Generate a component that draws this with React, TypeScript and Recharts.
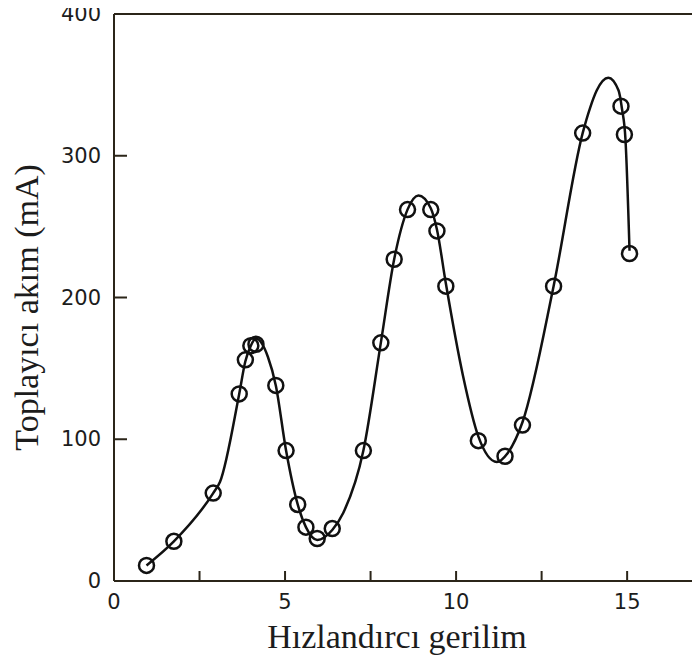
import { ComposedChart, Line, Scatter, XAxis, YAxis, ReferenceLine, Label } from 'recharts';

// measured points (volts, mA)
const pointV = [0.95, 1.75, 2.9, 3.66, 3.84, 4.0, 4.15, 4.73, 5.03, 5.37, 5.61, 5.94, 6.38,
  7.29, 7.8, 8.19, 8.58, 9.26, 9.44, 9.7, 10.65, 11.43, 11.94, 12.85, 13.7, 14.82, 14.92, 15.07];
const pointI = [11, 28, 62, 132, 156, 166, 167, 138, 92, 54, 38, 30, 37,
  92, 168, 227, 262, 262, 247, 208, 99, 88, 110, 208, 316, 335, 315, 231];

// hand-drawn fit curve
const curveV = [0.95, 1.75, 2.9, 3.1, 3.66, 3.84, 4.0, 4.15, 4.5, 4.73, 5.03, 5.37, 5.61, 5.94, 6.38, 6.7,
  7.29, 7.8, 8.19, 8.58, 8.9, 9.26, 9.44, 9.7, 10.2, 10.65, 11.19, 11.5, 11.94, 12.85, 13.7, 13.92,
  14.11, 14.45, 14.75, 14.85, 14.95, 15.07];
const curveI = [11, 28, 62, 70, 132, 155, 166, 171, 158, 138, 92, 54, 38, 29, 36, 48,
  92, 168, 227, 262, 272, 263, 248, 210, 145, 102, 84, 90, 112, 208, 316, 334,
  346, 355, 346, 333, 312, 233];

const xTicks = [0, 2.5, 5, 7.5, 10, 12.5, 15];
const yTicks = [0, 100, 200, 300, 400];

const points = pointV.map((v, k) => ({ v, i: pointI[k] }));
const curve = curveV.map((v, k) => ({ v, i: curveI[k] }));

const axisColor = '#2b2519';
const textColor = '#1c1c1c';
const tickFont = '"DejaVu Sans", Verdana, sans-serif';
const labelFont = '"Liberation Serif", "Times New Roman", serif';

const XTick = (props: any) => {
  const { x, y, payload } = props;
  const v = payload.value;
  return (
    <g>
      {v > 0 && <line x1={x} y1={y} x2={x} y2={y - 10} stroke={axisColor} strokeWidth={2} />}
      {v % 5 === 0 && (
        <text x={x} y={y + 21} textAnchor="middle" dominantBaseline="central"
          fontFamily={tickFont} fontSize={21} fill={textColor}>{v}</text>
      )}
    </g>
  );
};

const YTick = (props: any) => {
  const { x, y, payload } = props;
  const v = payload.value;
  return (
    <g>
      {v > 0 && v < 400 && <line x1={x} y1={y} x2={x + 13} y2={y} stroke={axisColor} strokeWidth={2} />}
      <text x={x - 13} y={y} textAnchor="end" dominantBaseline="central"
        fontFamily={tickFont} fontSize={21} fill={textColor}>{v}</text>
    </g>
  );
};

const XLabel = (props: any) => {
  const { x, y, width } = props.viewBox;
  return (
    <text x={x + width / 2 - 10} y={y + 67} textAnchor="middle" fontFamily={labelFont}
      fontSize={34} fill={textColor}>Hızlandırcı gerilim</text>
  );
};

const YLabel = (props: any) => {
  const { x, y, height } = props.viewBox;
  const cx = x + 38;
  const cy = y + height / 2 + 10;
  return (
    <text x={cx} y={cy} transform={`rotate(-90 ${cx} ${cy})`} textAnchor="middle"
      fontFamily={labelFont} fontSize={34} fill={textColor}>
      Toplayıcı akım (mA)
    </text>
  );
};

const Ring = (props: any) => (
  <circle cx={props.cx} cy={props.cy} r={7.5} fill="none" stroke="#111" strokeWidth={2.5} />
);

export default function App() {
  return (
    <div style={{ margin: '-8px 0 0 -8px' }}>
      <ComposedChart width={700} height={659} margin={{ top: 14, right: 0, left: 0, bottom: 0 }}>
        <XAxis type="number" dataKey="v" domain={[0, 17.13]} ticks={xTicks} allowDataOverflow
          height={78} tickSize={0} tickMargin={0} tickLine={false} tick={<XTick />}
          axisLine={{ stroke: axisColor, strokeWidth: 2 }} interval={0}>
          <Label content={<XLabel />} />
        </XAxis>
        <YAxis type="number" dataKey="i" domain={[0, 400]} ticks={yTicks} width={114}
          tickSize={0} tickMargin={0} tickLine={false} tick={<YTick />}
          axisLine={{ stroke: axisColor, strokeWidth: 2 }} interval={0}>
          <Label content={<YLabel />} />
        </YAxis>
        <ReferenceLine y={400} stroke={axisColor} strokeWidth={2} />
        <Line data={curve} dataKey="i" type="monotone" stroke="#111" strokeWidth={2.5}
          dot={false} activeDot={false} isAnimationActive={false} />
        <Scatter data={points} dataKey="i" shape={<Ring />} isAnimationActive={false} />
      </ComposedChart>
    </div>
  );
}
